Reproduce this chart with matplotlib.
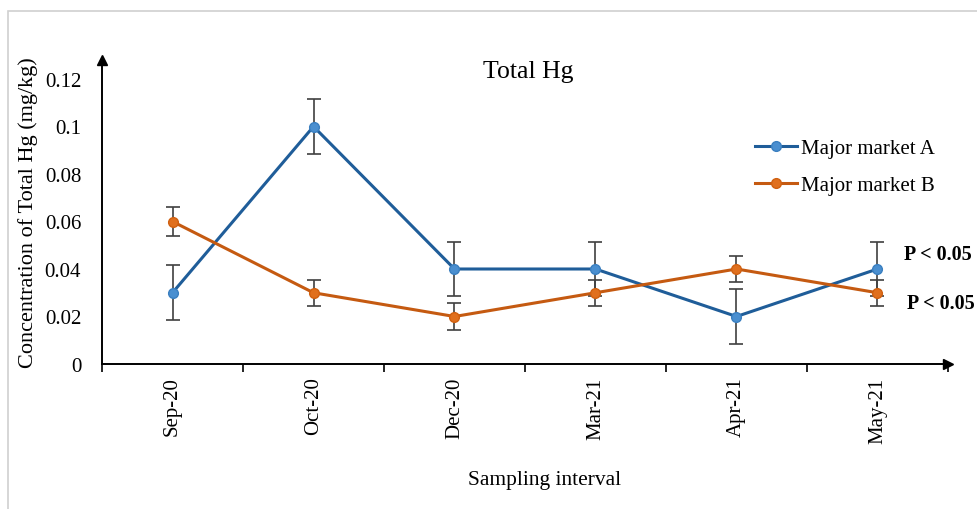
import numpy as np
import matplotlib
matplotlib.use("Agg")
import matplotlib.pyplot as plt
from matplotlib.patches import Rectangle
from matplotlib.lines import Line2D

plt.rcParams['font.family'] = ['Liberation Serif', 'DejaVu Serif']

# data
months = ['Sep-20', 'Oct-20', 'Dec-20', 'Mar-21', 'Apr-21', 'May-21']
market_a = [0.03, 0.10, 0.04, 0.04, 0.02, 0.04]
market_a_err = [0.0115, 0.0115, 0.0115, 0.0115, 0.0115, 0.0115]
market_b = [0.06, 0.03, 0.02, 0.03, 0.04, 0.03]
market_b_err = [0.006, 0.0055, 0.0055, 0.0055, 0.0055, 0.0055]
yticks = [0, 0.02, 0.04, 0.06, 0.08, 0.1, 0.12]
ytick_labels = ['0', '0.02', '0.04', '0.06', '0.08', '0.1', '0.12']
p_labels = ['P < 0.05', 'P < 0.05']

col_a, mk_a = '#1f5d99', '#4a8fd0'
col_b, mk_b = '#c55a11', '#e0701e'

fig = plt.figure(figsize=(9.77, 5.10), dpi=100)
fig.patches.append(Rectangle((8/977, -0.1), 1.1, 1.1 - 12/510,
                             transform=fig.transFigure, fill=False,
                             edgecolor='#d0d0d0', linewidth=1.2))
ax = fig.add_axes([102/977, 1 - 365/510, (948 - 102)/977, (365 - 61)/510])

x = np.arange(len(months))
ax.errorbar(x, market_a, yerr=market_a_err, color=col_a, lw=2.2,
            marker='o', ms=7, mfc=mk_a, mec='#3a7fc0',
            ecolor='#404040', elinewidth=1.2, capsize=5, capthick=1.2, zorder=3)
ax.errorbar(x, market_b, yerr=market_b_err, color=col_b, lw=2.2,
            marker='o', ms=7, mfc=mk_b, mec='#d06010',
            ecolor='#404040', elinewidth=1.2, capsize=5, capthick=1.2, zorder=3)

ax.set_xlim(-0.5, 5.5)
ax.set_ylim(0, 0.128)
ax.set_xticks(x)
ax.set_xticklabels(months, rotation=90, fontsize=15)
ax.set_xticks(np.arange(-0.5, 5.6, 1), minor=True)
ax.tick_params(axis='x', which='major', length=0, pad=9)
ax.tick_params(axis='x', which='minor', length=6, width=1.2, direction='out')
ax.set_yticks(yticks)
ax.set_yticklabels(ytick_labels, fontsize=15)
ax.tick_params(axis='y', length=0, pad=15)

for s in ['top', 'right']:
    ax.spines[s].set_visible(False)
ax.spines['left'].set_linewidth(1.4)
ax.spines['bottom'].set_linewidth(1.4)
ax.plot(0, 1, '^k', ms=7, transform=ax.transAxes, clip_on=False)
ax.plot(1, 0, '>k', ms=7, transform=ax.transAxes, clip_on=False)

ax.set_ylabel('Concentration of Total Hg (mg/kg)', fontsize=16)
ax.yaxis.set_label_coords((28 - 102)/846, 0.5)
ax.set_xlabel('Sampling interval', fontsize=15.5)
ax.xaxis.set_label_coords((545 - 102)/846, -(480 - 365)/304)
ax.xaxis.label.set_va('center')
ax.yaxis.label.set_va('center')
fig.text(528/977, 1 - 72/510, 'Total Hg', fontsize=18.5, ha='center', va='center')

handles = [Line2D([], [], color=col_a, lw=2.2, marker='o', ms=7, mfc=mk_a, mec='#3a7fc0'),
           Line2D([], [], color=col_b, lw=2.2, marker='o', ms=7, mfc=mk_b, mec='#d06010')]
ax.legend(handles, ['Major market A', 'Major market B'], loc='center left',
          bbox_to_anchor=((755 - 102)/846, 1 - (168 - 61)/304), frameon=False,
          fontsize=15, handlelength=2.0, handletextpad=0.2, labelspacing=0.85,
          borderpad=0, borderaxespad=0)

ax.text(5.19, 0.0465, p_labels[0], fontsize=14.5, fontweight='bold', va='center')
ax.text(5.21, 0.0255, p_labels[1], fontsize=14.5, fontweight='bold', va='center')

fig.savefig('out.png', dpi=100)
